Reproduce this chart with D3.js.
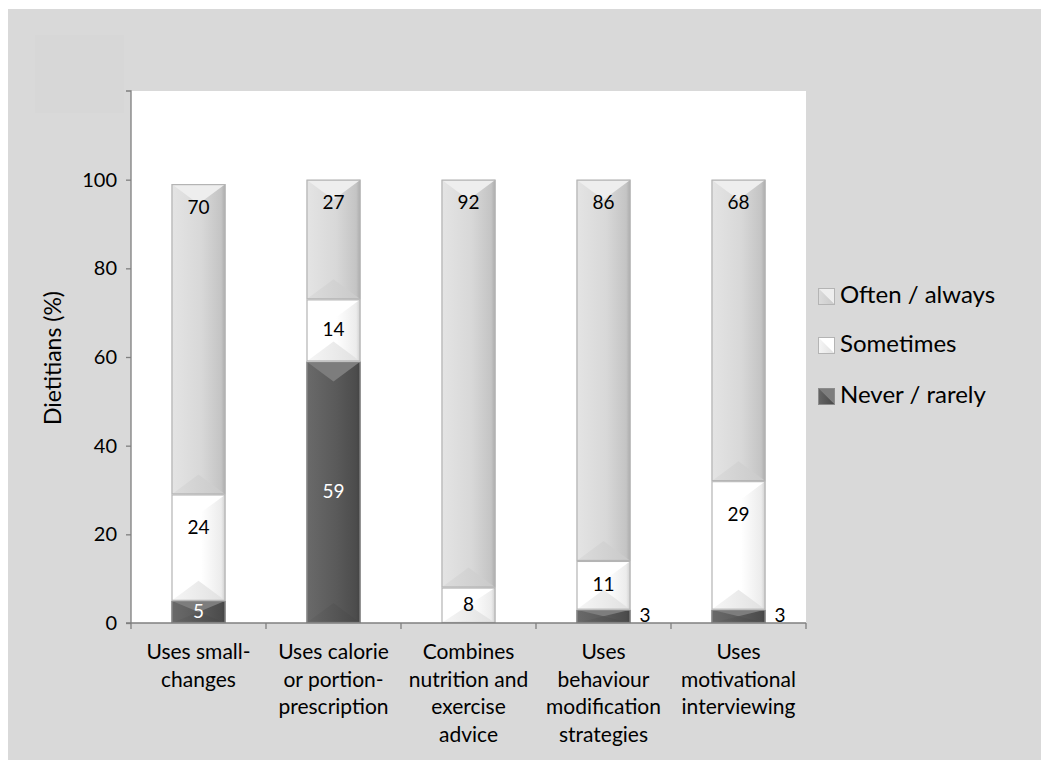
<!DOCTYPE html>
<html>
<head>
<meta charset="utf-8">
<script src="https://cdn.jsdelivr.net/npm/d3@7"></script>
<style>
  html, body { margin: 0; padding: 0; background: #ffffff; }
  svg { display: block; }
  text { font-family: Lato, "Open Sans", "Noto Sans", sans-serif; fill: #000; }
</style>
</head>
<body>
<svg id="chart" width="1041" height="760"></svg>
<script>
// Practice categories (x axis), each split into three response bands
const categories = [
  ["Uses small-", "changes"],
  ["Uses calorie", "or portion-", "prescription"],
  ["Combines", "nutrition and", "exercise", "advice"],
  ["Uses", "behaviour", "modification", "strategies"],
  ["Uses", "motivational", "interviewing"]
];
const seriesNames = ["Never / rarely", "Sometimes", "Often / always"];
const neverRarely = [5, 59, 0, 3, 3];
const sometimes   = [24, 14, 8, 11, 29];
const oftenAlways = [70, 27, 92, 86, 68];
const yTicks = [0, 20, 40, 60, 80, 100];
const yTitle = "Dietitians (%)";

const svg = d3.select("#chart");
const defs = svg.append("defs");

// page background and chart area
svg.append("rect").attr("x", 8).attr("y", 9).attr("width", 1033).attr("height", 751).attr("fill", "#d9d9d9");
svg.append("rect").attr("x", 35).attr("y", 35).attr("width", 89).attr("height", 78).attr("fill", "#d7d7d7");

const plot = { left: 131, right: 806, top: 91, bottom: 623 };
const x = d3.scaleBand().domain(d3.range(categories.length)).range([plot.left, plot.right]).paddingInner(0.6).paddingOuter(0.3);
const y = d3.scaleLinear().domain([0, 120]).range([plot.bottom, plot.top]);

svg.append("rect").attr("x", plot.left).attr("y", plot.top)
  .attr("width", plot.right - plot.left).attr("height", plot.bottom - plot.top).attr("fill", "#ffffff");

// bevel palettes per series: side gradient stops, top facet, bottom facet gradient
const palettes = [
  { id: "never", sideL: "#6a6a6a", sideM: "#5a5a5a", sideR: "#4c4c4c", top: "#7d7d7d", botL: "#666666", botR: "#474747", stroke: "#8c8c8c", label: "#ffffff" },
  { id: "some",  sideL: "#ffffff", sideM: "#ffffff", sideR: "#ececec", top: "#ffffff", botL: "#f6f6f6", botR: "#e0e0e0", stroke: "#b4b4b4", label: "#000000" },
  { id: "often", sideL: "#e4e4e4", sideM: "#d8d8d8", sideR: "#c4c4c4", top: "#eeeeee", botL: "#dcdcdc", botR: "#c9c9c9", stroke: "#b4b4b4", label: "#000000" }
];
palettes.forEach(p => {
  const g = defs.append("linearGradient").attr("id", "side-" + p.id).attr("x1", 0).attr("x2", 1).attr("y1", 0).attr("y2", 0);
  g.append("stop").attr("offset", 0).attr("stop-color", p.sideL);
  g.append("stop").attr("offset", 0.55).attr("stop-color", p.sideM);
  g.append("stop").attr("offset", 0.92).attr("stop-color", p.sideR);
  g.append("stop").attr("offset", 1).attr("stop-color", d3.color(p.sideR).darker(0.4));
  const b = defs.append("linearGradient").attr("id", "bot-" + p.id).attr("x1", 0).attr("x2", 1).attr("y1", 0).attr("y2", 0);
  b.append("stop").attr("offset", 0).attr("stop-color", p.botL);
  b.append("stop").attr("offset", 1).attr("stop-color", p.botR);
});

const stackData = categories.map((c, i) => ({ i, v: [neverRarely[i], sometimes[i], oftenAlways[i]] }));
const stack = d3.stack().keys([0, 1, 2]).value((d, k) => d.v[k]);
const layers = stack(stackData);

function drawBevel(g, x0, x1, y0, y1, p) {
  const w = x1 - x0, h = y1 - y0;
  if (h <= 0) return;
  const dh = w / 2, dv = Math.min(20, h / 2);
  const xc = x0 + dh;
  g.append("rect").attr("x", x0).attr("y", y0).attr("width", w).attr("height", h).attr("fill", `url(#side-${p.id})`);
  g.append("path").attr("d", `M${x0},${y0}L${x1},${y0}L${xc},${y0 + dv}Z`).attr("fill", p.top);
  g.append("path").attr("d", `M${x0},${y1}L${x1},${y1}L${xc},${y1 - dv}Z`).attr("fill", `url(#bot-${p.id})`);
  g.append("rect").attr("x", x0 + 0.5).attr("y", y0 + 0.5).attr("width", w - 1).attr("height", h - 1)
    .attr("fill", "none").attr("stroke", p.stroke).attr("stroke-width", 1.2);
}

const barsG = svg.append("g");
// label placement: offset from segment top for the upper bands, centre otherwise
const labelInset = [null, 34, 24];
layers.forEach((layer, k) => {
  const p = palettes[k];
  layer.forEach((seg, i) => {
    const x0 = x(i), x1 = x(i) + x.bandwidth();
    drawBevel(barsG, x0, x1, y(seg[1]), y(seg[0]), p);
  });
});

const labelsG = svg.append("g").style("font-size", "19px");
layers.forEach((layer, k) => {
  const p = palettes[k];
  layer.forEach((seg, i) => {
    const val = seg[1] - seg[0];
    if (val <= 0) return;
    const yt = y(seg[1]), yb = y(seg[0]);
    const cx = x(i) + x.bandwidth() / 2;
    const h = yb - yt;
    if (h < 18) {
      // too thin: place to the right of the bar
      labelsG.append("text").attr("x", x(i) + x.bandwidth() + 9).attr("y", (yt + yb) / 2 + 1)
        .attr("dominant-baseline", "middle").text(val);
      return;
    }
    let ly = (yt + yb) / 2;
    if (labelInset[k] !== null) ly = Math.min(ly, yt + labelInset[k]);
    labelsG.append("text").attr("x", cx).attr("y", ly + 1).attr("text-anchor", "middle")
      .attr("dominant-baseline", "middle").style("fill", p.label).text(val);
  });
});

// y axis
const yAxis = svg.append("g").attr("transform", `translate(${plot.left},0)`)
  .call(d3.axisLeft(y).tickValues(yTicks).tickSize(5).tickPadding(9));
yAxis.select(".domain").attr("d", `M-5,${plot.top}H0V${plot.bottom}`).attr("stroke", "#7f7f7f").attr("stroke-width", 1.3);
yAxis.selectAll(".tick line").attr("stroke", "#7f7f7f").attr("stroke-width", 1.3);
yAxis.selectAll(".tick text").style("font-size", "20px").style("font-family", "Lato, 'Open Sans', sans-serif").attr("fill", "#000");

svg.append("text").attr("transform", `translate(55,${(plot.top + plot.bottom) / 2 + 1}) rotate(-90)`)
  .attr("text-anchor", "middle").attr("dominant-baseline", "middle").style("font-size", "23px").text(yTitle);

// x axis with ticks at category boundaries
const xAxisG = svg.append("g");
xAxisG.append("line").attr("x1", plot.left - 5).attr("x2", plot.right).attr("y1", plot.bottom).attr("y2", plot.bottom)
  .attr("stroke", "#7f7f7f").attr("stroke-width", 1.3);
const step = x.step();
const boundaries = d3.range(categories.length + 1).map(i => plot.left + i * step);
xAxisG.selectAll("line.tick").data(boundaries).join("line").attr("class", "tick")
  .attr("x1", d => d).attr("x2", d => d).attr("y1", plot.bottom).attr("y2", plot.bottom + 6)
  .attr("stroke", "#7f7f7f").attr("stroke-width", 1.3);
categories.forEach((lines, i) => {
  const t = xAxisG.append("text").attr("x", x(i) + x.bandwidth() / 2).attr("y", 659)
    .attr("text-anchor", "middle").style("font-size", "21px");
  lines.forEach((ln, j) => t.append("tspan").attr("x", x(i) + x.bandwidth() / 2).attr("dy", j === 0 ? 0 : 27.5).text(ln));
});

// legend (top series first)
const legend = svg.append("g");
const legendOrder = [2, 1, 0];
const legendY = [296, 345, 396];
legendOrder.forEach((k, r) => {
  const p = palettes[k];
  const s = 17;
  const sy = legendY[r] - 8;
  const sx = 818;
  const sg = legend.append("g");
  sg.append("rect").attr("x", sx).attr("y", sy).attr("width", s).attr("height", s).attr("fill", `url(#side-${p.id})`);
  sg.append("path").attr("d", `M${sx},${sy}L${sx + s},${sy}L${sx + s},${sy + s}Z`).attr("fill", p.top);
  sg.append("path").attr("d", `M${sx},${sy}L${sx},${sy + s}L${sx + s},${sy + s}Z`).attr("fill", `url(#bot-${p.id})`);
  sg.append("rect").attr("x", sx + 0.5).attr("y", sy + 0.5).attr("width", s - 1).attr("height", s - 1)
    .attr("fill", "none").attr("stroke", p.stroke);
  legend.append("text").attr("x", 840).attr("y", legendY[r] + 1).attr("dominant-baseline", "middle")
    .style("font-size", "24px").text(seriesNames[k]);
});
</script>
</body>
</html>
